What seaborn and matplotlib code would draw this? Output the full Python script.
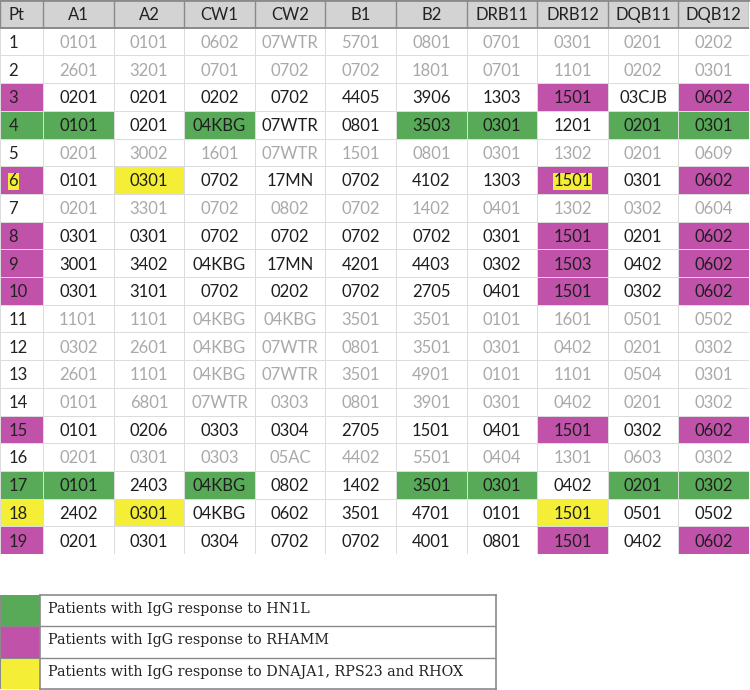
import matplotlib
matplotlib.use('Agg')
import matplotlib.pyplot as plt
from matplotlib.colors import ListedColormap
import seaborn as sns
import numpy as np

# HLA typing table, patients 1-19
columns = ['A1', 'A2', 'CW1', 'CW2', 'B1', 'B2', 'DRB11', 'DRB12', 'DQB11', 'DQB12']
pt = [str(i) for i in range(1, 20)]

a1 = ['0101', '2601', '0201', '0101', '0201', '0101', '0201', '0301', '3001', '0301',
      '1101', '0302', '2601', '0101', '0101', '0201', '0101', '2402', '0201']
a2 = ['0101', '3201', '0201', '0201', '3002', '0301', '3301', '0301', '3402', '3101',
      '1101', '2601', '1101', '6801', '0206', '0301', '2403', '0301', '0301']
cw1 = ['0602', '0701', '0202', '04KBG', '1601', '0702', '0702', '0702', '04KBG', '0702',
       '04KBG', '04KBG', '04KBG', '07WTR', '0303', '0303', '04KBG', '04KBG', '0304']
cw2 = ['07WTR', '0702', '0702', '07WTR', '07WTR', '17MN', '0802', '0702', '17MN', '0202',
       '04KBG', '07WTR', '07WTR', '0303', '0304', '05AC', '0802', '0602', '0702']
b1 = ['5701', '0702', '4405', '0801', '1501', '0702', '0702', '0702', '4201', '0702',
      '3501', '0801', '3501', '0801', '2705', '4402', '1402', '3501', '0702']
b2 = ['0801', '1801', '3906', '3503', '0801', '4102', '1402', '0702', '4403', '2705',
      '3501', '3501', '4901', '3901', '1501', '5501', '3501', '4701', '4001']
drb11 = ['0701', '0701', '1303', '0301', '0301', '1303', '0401', '0301', '0302', '0401',
         '0101', '0301', '0101', '0301', '0401', '0404', '0301', '0101', '0801']
drb12 = ['0301', '1101', '1501', '1201', '1302', '1501', '1302', '1501', '1503', '1501',
         '1601', '0402', '1101', '0402', '1501', '1301', '0402', '1501', '1501']
dqb11 = ['0201', '0202', '03CJB', '0201', '0201', '0301', '0302', '0201', '0402', '0302',
         '0501', '0201', '0504', '0201', '0302', '0603', '0201', '0501', '0402']
dqb12 = ['0202', '0301', '0602', '0301', '0609', '0602', '0604', '0602', '0602', '0602',
         '0502', '0302', '0301', '0302', '0602', '0302', '0302', '0502', '0602']
alleles = [a1, a2, cw1, cw2, b1, b2, drb11, drb12, dqb11, dqb12]

# response group per patient: 0 none, 1 HN1L, 2 RHAMM, 3 DNAJA1/RPS23/RHOX
pt_group = [0, 0, 2, 1, 0, 2, 0, 2, 2, 2, 0, 0, 0, 0, 2, 0, 1, 3, 2]
# highlighted cells (patient, column, group)
cell_marks = [(3, 'DRB12', 2), (3, 'DQB12', 2),
              (4, 'A1', 1), (4, 'CW1', 1), (4, 'B2', 1), (4, 'DRB11', 1), (4, 'DQB11', 1), (4, 'DQB12', 1),
              (6, 'A2', 3), (6, 'DRB12', 2), (6, 'DQB12', 2),
              (8, 'DRB12', 2), (8, 'DQB12', 2), (9, 'DRB12', 2), (9, 'DQB12', 2),
              (10, 'DRB12', 2), (10, 'DQB12', 2), (15, 'DRB12', 2), (15, 'DQB12', 2),
              (17, 'A1', 1), (17, 'CW1', 1), (17, 'B2', 1), (17, 'DRB11', 1), (17, 'DQB11', 1), (17, 'DQB12', 1),
              (18, 'A2', 3), (18, 'DRB12', 3), (19, 'DRB12', 2), (19, 'DQB12', 2)]
# cells whose text has a yellow highlight on top of the fill
text_marks = [(6, 'Pt'), (6, 'DRB12')]
responders = [3, 4, 6, 8, 9, 10, 15, 17, 18, 19]

legend_labels = ['Patients with IgG response to HN1L',
                 'Patients with IgG response to RHAMM',
                 'Patients with IgG response to DNAJA1, RPS23 and RHOX']

palette = ['#ffffff', '#58a958', '#c152a9', '#f4ee36', '#d3d3d3']
cmap = ListedColormap(palette)

# code matrices (row 0 = header)
pt_codes = np.array([[4]] + [[g] for g in pt_group])
codes = np.zeros((20, len(columns)), dtype=int)
codes[0, :] = 4
for p, c, g in cell_marks:
    codes[p, columns.index(c)] = g

W, H = 750, 690
fig = plt.figure(figsize=(7.5, 6.9), dpi=100)
top = 554
ax0 = fig.add_axes([0, (H - top) / H, 43 / W, top / H])
ax1 = fig.add_axes([43 / W, (H - top) / H, 706 / W, top / H])

plt.rcParams['font.family'] = ['Lato', 'DejaVu Sans']
fs = 12
grid = '#dcdcdc'
dark = '#8a8a8a'

for ax, data in [(ax0, pt_codes), (ax1, codes)]:
    sns.heatmap(data, ax=ax, cmap=cmap, vmin=-0.5, vmax=4.5, cbar=False,
                linewidths=0.5, linecolor=grid, xticklabels=False, yticklabels=False)
    ax.axhline(1, color=dark, lw=1.4)
    ax.axhline(0, color=dark, lw=2, clip_on=False)
    ax.vlines(np.arange(0, data.shape[1] + 1), 0, 1, color=dark, lw=1)

# header text
ax0.text(0.2, 0.55, 'Pt', ha='left', va='center', fontsize=fs, color='#222222')
for j, c in enumerate(columns):
    ax1.text(j + 0.5, 0.55, c, ha='center', va='center', fontsize=fs, color='#222222')

# body text
for i, p in enumerate(pt):
    n = i + 1
    kw = {}
    if (n, 'Pt') in text_marks:
        kw['bbox'] = dict(facecolor=palette[3], edgecolor='none', pad=0.5)
    ax0.text(0.2, n + 0.55, p, ha='left', va='center', fontsize=fs, color='#222222', **kw)
    tc = '#1e1e1e' if n in responders else '#a9a9a9'
    for j, c in enumerate(columns):
        kw = {}
        if (n, c) in text_marks:
            kw['bbox'] = dict(facecolor=palette[3], edgecolor='none', pad=0.5)
        ax1.text(j + 0.5, n + 0.55, alleles[j][i], ha='center', va='center',
                 fontsize=fs, color=tc, **kw)

# legend box
lx = fig.add_axes([0, 1 / H, 40 / W, 94 / H])
sns.heatmap(np.array([[1], [2], [3]]), ax=lx, cmap=cmap, vmin=-0.5, vmax=4.5, cbar=False,
            linewidths=0.6, linecolor=dark, xticklabels=False, yticklabels=False)
lt = fig.add_axes([40 / W, 1 / H, 456 / W, 94 / H])
lt.set_xlim(0, 1)
lt.set_ylim(3, 0)
lt.set_xticks([])
lt.set_yticks([])
for s in lt.spines.values():
    s.set_color(dark)
    s.set_linewidth(1.2)
for k, lab in enumerate(legend_labels):
    if k > 0:
        lt.axhline(k, color=dark, lw=1)
    lt.text(0.018, k + 0.45, lab, ha='left', va='center', fontsize=10.3,
            family=['DejaVu Serif'], color='#222222')

plt.savefig('out.png', dpi=100)
